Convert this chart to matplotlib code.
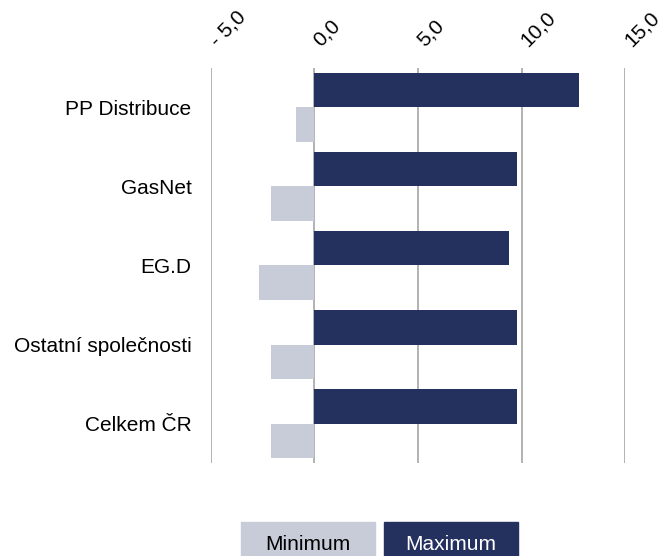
import matplotlib.pyplot as plt
import numpy as np
from matplotlib.patches import Rectangle
from matplotlib.transforms import ScaledTranslation

plt.rcParams['font.family'] = ['Liberation Sans', 'DejaVu Sans']

# data
categories = ['PP Distribuce', 'GasNet', 'EG.D', 'Ostatní společnosti', 'Celkem ČR']
minimum = [-0.87, -2.09, -2.66, -2.08, -2.08]
maximum = [12.78, 9.77, 9.40, 9.80, 9.80]
ticks = [-5, 0, 5, 10, 15]
tick_labels = ['- 5,0', '0,0', '5,0', '10,0', '15,0']

navy = '#24305e'
grey = '#c8ccd8'

fig = plt.figure(figsize=(6.63, 5.56), dpi=100)
ax = fig.add_axes([0.318, 0.167, 0.625, 0.711])

y = np.arange(len(categories))
h = 0.435
ax.barh(y - h / 2, maximum, height=h, color=navy, zorder=3)
ax.barh(y + h / 2, minimum, height=h, color=grey, zorder=3)

ax.set_xlim(-5, 15)
ax.set_ylim(len(categories) - 0.5, -0.5)
ax.set_yticks(y)
ax.set_yticklabels(categories, fontsize=15)
ax.set_xticks(ticks)
ax.set_xticklabels(tick_labels, fontsize=15, rotation=45, ha='left', va='bottom',
                   rotation_mode='anchor')
ax.xaxis.tick_top()
ax.tick_params(axis='both', length=0)
ax.tick_params(axis='x', pad=13)
ax.tick_params(axis='y', pad=14)
# nudge rotated labels a bit to the right, like the original
shift = ScaledTranslation(0.09, 0, fig.dpi_scale_trans)
for lbl in ax.get_xticklabels():
    lbl.set_transform(lbl.get_transform() + shift)
ax.grid(axis='x', color='#a6a6a6', linewidth=1.2, zorder=0)
for s in ax.spines.values():
    s.set_visible(False)

# legend drawn as coloured boxes at the bottom
W, H = 663, 556
fig.patches.append(Rectangle((241 / W, 0), 134 / W, 34 / H, transform=fig.transFigure,
                             color=grey, zorder=1))
fig.patches.append(Rectangle((384 / W, 0), 134 / W, 34 / H, transform=fig.transFigure,
                             color=navy, zorder=1))
fig.text(308 / W, 11 / H, 'Minimum', ha='center', va='center', fontsize=15, color='black')
fig.text(451 / W, 11 / H, 'Maximum', ha='center', va='center', fontsize=15, color='white')

fig.savefig('out.png', dpi=100)
